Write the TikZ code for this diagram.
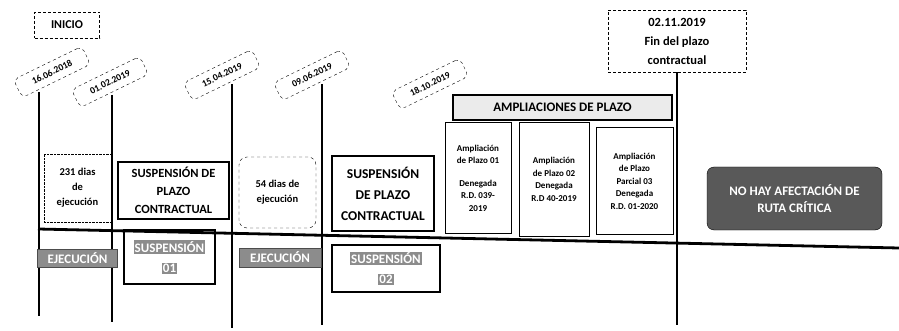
\documentclass[tikz,border=0pt]{standalone}
\usepackage{fontspec}
\setmainfont{Carlito}
\usetikzlibrary{positioning}

\setlength{\fboxsep}{1pt}
\newcommand{\rotulo}[1]{\colorbox{black!45}{\textcolor{white}{#1}}}

\begin{document}
\begin{tikzpicture}[x=1pt, y=-1pt,
    every node/.style={inner sep=1pt, align=center},
    fecha/.style={draw, dashed, rounded corners=5pt, rotate=26, minimum width=76pt, minimum height=20pt, font=\bfseries\fontsize{9.5}{10}\selectfont},
    tramo/.style={draw, line width=1.2pt, font=\bfseries\fontsize{12.5}{18}\selectfont},
    dias/.style={draw, densely dotted, font=\bfseries\fontsize{10.5}{15}\selectfont},
    amp/.style={draw, line width=1pt, font=\bfseries\fontsize{9}{12.5}\selectfont},
    ejec/.style={fill=black!45, draw=black!70, text=white, font=\bfseries\fontsize{13}{14}\selectfont},
    susp/.style={draw, line width=1.2pt, font=\bfseries\fontsize{13}{20}\selectfont},
    hito/.style={line width=1.8pt}]
    \useasboundingbox (0,0) rectangle (899,331);

    % inicio y fechas
    \node[draw, densely dashed, minimum width=65pt, minimum height=26pt, font=\bfseries\fontsize{12}{14}\selectfont] (inicio) at (67,25) {INICIO};
    \node[fecha] (f1) at (52,72) {16.06.2018};
    \node[fecha] (f2) at (110,82) {01.02.2019};
    \node[fecha] (f3) at (222,75) {15.04.2019};
    \node[fecha] (f4) at (312,75) {09.06.2019};
    \node[fecha] (f5) at (430,84) {18.10.2019};
    \node[draw, densely dashed, minimum width=138pt, minimum height=62pt, font=\bfseries\fontsize{12.5}{19}\selectfont] (fin) at (677,41) {02.11.2019\\Fin del plazo\\contractual};

    % hitos
    \coordinate (t1) at (39,92);  \coordinate (b1) at (39,316);
    \coordinate (t2) at (112,95); \coordinate (b2) at (112,322);
    \coordinate (t3) at (232,84); \coordinate (b3) at (232,328);
    \coordinate (t4) at (322,84); \coordinate (b4) at (322,325);
    \coordinate (b6) at (677,325);
    \draw[hito] (t1) -- (b1);
    \draw[hito] (t2) -- (b2);
    \draw[hito] (t3) -- (b3);
    \draw[hito] (t4) -- (b4);
    \draw[hito] (fin.south) -- (b6);

    % linea de tiempo
    \coordinate (ini) at (38,229);
    \coordinate (fin-linea) at (899,248);
    \draw[line width=2.8pt] (ini) -- (fin-linea);

    % tramos sobre la linea
    \node[dias, minimum width=67pt, minimum height=68pt] (d1) at (77.5,188) {231 dias\\de\\ejecución};
    \node[tramo, minimum width=111pt, minimum height=57pt] (s1) at (173.5,190.5) {SUSPENSIÓN DE\\PLAZO\\CONTRACTUAL};
    \node[dias, dashed, rounded corners=8pt, minimum width=77pt, minimum height=71pt] (d2) at (277.5,192.5) {54 dias de\\ejecución};
    \node[tramo, minimum width=102pt, minimum height=75pt, font=\bfseries\fontsize{13.5}{21}\selectfont] (s2) at (383,193.5) {SUSPENSIÓN\\DE PLAZO\\CONTRACTUAL};

    % ampliaciones
    \node[draw, line width=1.2pt, fill=black!8, minimum width=219pt, minimum height=25pt, font=\bfseries\fontsize{13}{14}\selectfont] (amph) at (562.5,107.5) {AMPLIACIONES DE PLAZO};
    \node[amp, minimum width=66pt, minimum height=110pt] (a1) at (478,178) {Ampliación\\de Plazo 01\\[10pt]Denegada\\R.D. 039-\\2019};
    \node[amp, minimum width=70pt, minimum height=113pt] (a2) at (554,179.5) {Ampliación\\de Plazo 02\\Denegada\\R.D 40-2019};
    \node[amp, minimum width=77pt, minimum height=106pt] (a3) at (634.5,181) {Ampliación\\de Plazo\\Parcial 03\\Denegada\\R.D. 01-2020};
    \node[draw, fill=black!65, rounded corners=7pt, text=white, minimum width=175pt, minimum height=63pt, font=\bfseries\fontsize{13}{17}\selectfont] (ruta) at (794.5,198.5) {NO HAY AFECTACIÓN DE\\RUTA CRÍTICA};

    % etiquetas bajo la linea
    \node[ejec, minimum width=80pt, minimum height=18pt] (e1) at (77.5,258) {EJECUCIÓN};
    \node[susp, minimum width=91pt, minimum height=54pt] (sp1) at (169.5,257) {\rotulo{SUSPENSIÓN}\\\rotulo{01}};
    \node[ejec, minimum width=82pt, minimum height=19pt] (e2) at (280,257.5) {EJECUCIÓN};
    \node[susp, minimum width=108pt, minimum height=47pt] (sp2) at (386,268.5) {\rotulo{SUSPENSIÓN}\\\rotulo{02}};
\end{tikzpicture}
\end{document}
